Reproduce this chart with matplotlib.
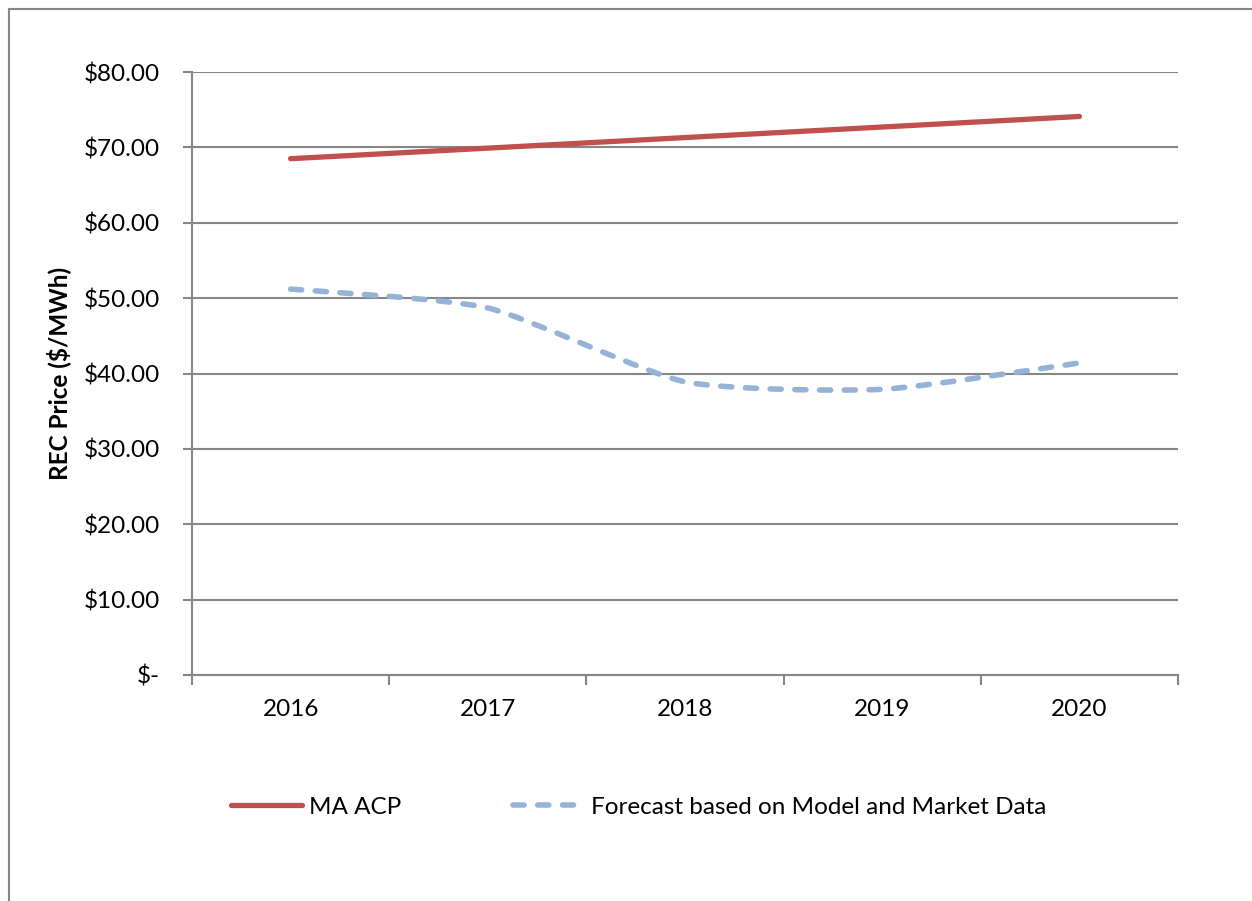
import matplotlib
matplotlib.use("Agg")
import matplotlib.pyplot as plt
from matplotlib.path import Path
from matplotlib.patches import PathPatch, Rectangle
from matplotlib.lines import Line2D

# data
years = [2016, 2017, 2018, 2019, 2020]
ma_acp = [68.5, 69.9, 71.3, 72.7, 74.1]
forecast = [51.2, 48.7, 38.9, 37.9, 41.4]

yticks = [0, 10, 20, 30, 40, 50, 60, 70, 80]
ytick_labels = ["$-", "$10.00", "$20.00", "$30.00", "$40.00",
                "$50.00", "$60.00", "$70.00", "$80.00"]

RED = "#C0504D"
BLUE = "#95B3D7"
GRID = "#868686"
FS = 17.5
DASH = (0, (2.0, 2.45))

plt.rcParams["font.family"] = ["Lato", "DejaVu Sans"]


def smooth_path(xs, ys, k=0.1):
    # cubic bezier through the points, like Excel's smoothed line
    pts = list(zip(xs, ys))
    n = len(pts)
    verts = [pts[0]]
    codes = [Path.MOVETO]
    for i in range(n - 1):
        p0 = pts[i - 1] if i > 0 else pts[i]
        p1 = pts[i]
        p2 = pts[i + 1]
        p3 = pts[i + 2] if i + 2 < n else pts[i + 1]
        c1 = (p1[0] + (p2[0] - p0[0]) * k, p1[1] + (p2[1] - p0[1]) * k)
        c2 = (p2[0] - (p3[0] - p1[0]) * k, p2[1] - (p3[1] - p1[1]) * k)
        verts += [c1, c2, p2]
        codes += [Path.CURVE4] * 3
    return Path(verts, codes)


fig = plt.figure(figsize=(12.52, 9.01), dpi=100)

# outer chart frame (runs off the right and bottom edges)
fig.patches.append(Rectangle((9 / 1252, -0.05), 1.2, 1 - 9 / 901 + 0.05,
                             transform=fig.transFigure, fill=False,
                             edgecolor=GRID, linewidth=1.5))

ax = fig.add_axes([192 / 1252, 1 - 675 / 901, 986 / 1252, 603 / 901])

ax.plot(years, ma_acp, color=RED, linewidth=3.8, solid_capstyle="round",
        zorder=3)
ax.add_patch(PathPatch(smooth_path(years, forecast), fill=False,
                       edgecolor=BLUE, linewidth=4.0,
                       linestyle=DASH, capstyle="round", zorder=3))

ax.set_xlim(2015.5, 2020.5)
ax.set_ylim(0, 80)

ax.set_yticks(yticks)
ax.set_yticklabels(ytick_labels, fontsize=FS)
ax.tick_params(axis="y", length=6.5, width=1.5, color=GRID, pad=16.5)

# ticks between categories, labels centred on categories
ax.set_xticks([2015.5 + i for i in range(6)])
ax.set_xticklabels([])
ax.set_xticks(years, minor=True)
ax.set_xticklabels([str(y) for y in years], minor=True, fontsize=FS)
ax.tick_params(axis="x", which="major", length=7, width=1.5, color=GRID)
ax.tick_params(axis="x", which="minor", length=0, pad=17)

ax.grid(axis="y", color=GRID, linewidth=1.5)
ax.set_axisbelow(True)
for side in ["top", "right"]:
    ax.spines[side].set_visible(False)
for side in ["left", "bottom"]:
    ax.spines[side].set_color(GRID)
    ax.spines[side].set_linewidth(1.5)

ax.set_ylabel("REC Price ($/MWh)", fontsize=17.5, fontweight="bold")
ax.yaxis.set_label_coords(-0.123, 0.5)

handles = [
    Line2D([], [], color=RED, linewidth=3.8, solid_capstyle="round"),
    Line2D([], [], color=BLUE, linewidth=4.0, linestyle=DASH,
           dash_capstyle="round"),
]
fig.legend(handles, ["MA ACP", "Forecast based on Model and Market Data"],
           loc="center left", bbox_to_anchor=(219 / 1252, 1 - 807 / 901),
           ncol=2, frameon=False, fontsize=FS, handlelength=2.9,
           handletextpad=0.3, columnspacing=4.6, borderpad=0)

fig.savefig("out.png", dpi=100)
